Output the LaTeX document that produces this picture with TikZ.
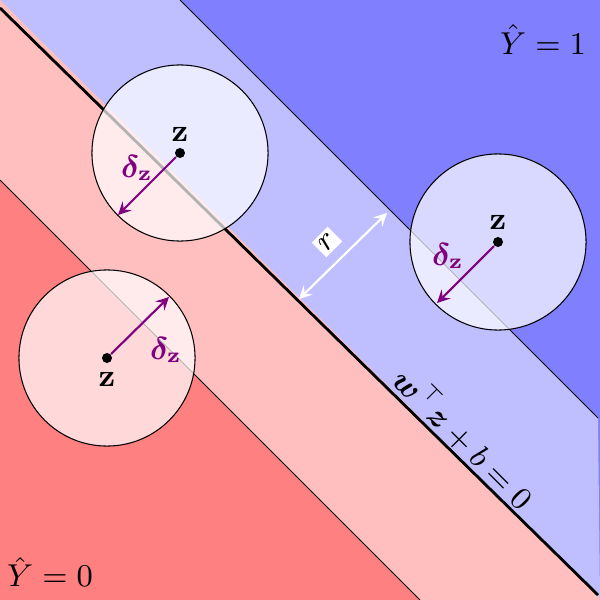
\documentclass[tikz,border=0pt]{standalone}
\usepackage{amsmath,bm}
\begin{document}
\begin{tikzpicture}[x=0.01cm,y=-0.01cm,
  ball/.style={circle,inner sep=0pt,minimum size=1.76cm,fill=white,fill opacity=0.7,draw=black,line width=0.3pt},
  pt/.style={circle,fill=black,inner sep=0pt,minimum size=0.1cm},
  darr/.style={->,violet,line width=0.6pt,>=stealth},
  lbl/.style={violet,font=\small}]
\useasboundingbox (0,0) rectangle (600,600);
\fill[blue!50] (0,0) rectangle (600,600);
\fill[blue!25] (0,0) -- (180,0) -- (598,418) -- (600,600) -- (0,600) -- cycle;
\fill[red!25] (0,0) -- (598,595) -- (600,600) -- (0,600) -- cycle;
\fill[red!50] (0,180) -- (420,600) -- (0,600) -- cycle;
\draw[line width=0.3pt] (0,180) -- (420,600);
\draw[line width=0.3pt] (180,0) -- (598,418);
\coordinate (L0) at (0,8);
\coordinate (L1) at (598,595);
\draw[line width=0.8pt] (L0) -- (L1);
\node[ball] (c1) at (180,153) {};
\node[ball] (c2) at (498,242) {};
\node[ball] (c3) at (107,358) {};
\node[pt] (p1) at (180,153) {};
\node[pt] (p2) at (498,242) {};
\node[pt] (p3) at (107,358) {};
\node[font=\small] (z1) at (180,134) {$\mathbf z$};
\node[font=\small] (z2) at (498,222) {$\mathbf z$};
\node[font=\small] (z3) at (107,379) {$\mathbf z$};
\coordinate (e1) at (118,215);
\coordinate (e2) at (437,303);
\coordinate (e3) at (169,297);
\draw[darr] (p1) -- (e1);
\draw[darr] (p2) -- (e2);
\draw[darr] (p3) -- (e3);
\node[lbl] (d1) at (137,168) {$\bm\delta_{\mathbf z}$};
\node[lbl] (d2) at (448,256) {$\bm\delta_{\mathbf z}$};
\node[lbl] (d3) at (166,350) {$\bm\delta_{\mathbf z}$};
\coordinate (r0) at (299,299);
\coordinate (r1) at (387,213);
\draw[<->,white,line width=0.6pt,>=stealth] (r0) -- (r1);
\node[fill=white,rotate=45,inner sep=1pt,font=\small] (r) at (327,242) {$r$};
\node[rotate=-45,font=\small] (eq) at (464,438) {$\bm w^{\top}\bm z+b=0$};
\node[font=\small] (y1) at (543,40) {$\hat Y=1$};
\node[font=\small] (y0) at (50,572) {$\hat Y=0$};
\end{tikzpicture}
\end{document}
